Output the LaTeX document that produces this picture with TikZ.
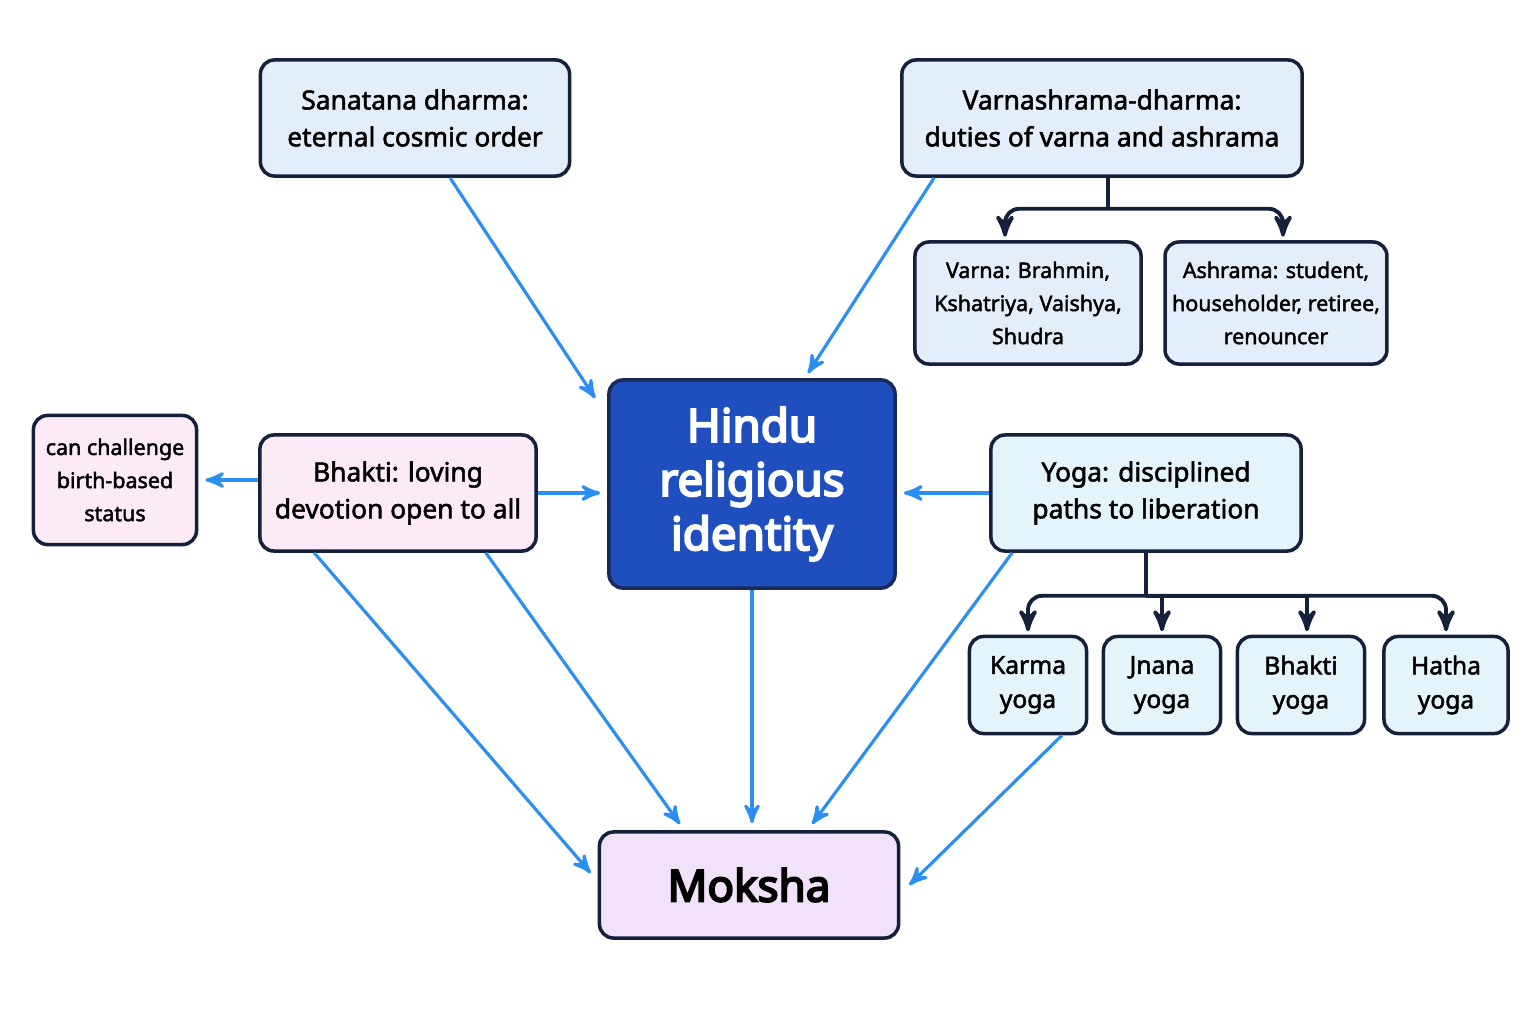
\documentclass[tikz,border=0pt]{standalone}
\usepackage{fontspec}
\setmainfont{Noto Sans}
\newfontfamily\medfont{Noto Sans}[FakeBold=2]
\newfontfamily\headfont{Noto Sans}[FakeBold=4.5]
\usepackage{xcolor}
\usetikzlibrary{arrows,positioning}
\tikzset{>=stealth'}
\definecolor{navy}{HTML}{15203B}
\definecolor{hindublue}{HTML}{1F4EBF}
\definecolor{linkblue}{HTML}{2B8EF2}
\definecolor{bluefill}{HTML}{E4EEFA}
\definecolor{cyanfill}{HTML}{E3F4FB}
\definecolor{pinkfill}{HTML}{FCEAF6}
\definecolor{lavfill}{HTML}{F1E2F9}

\begin{document}
\begin{tikzpicture}[x=0.01cm,y=-0.01cm,
                    box/.style={draw=navy, line width=1pt, rounded corners=4pt, align=center, inner sep=2pt},
                    bigbox/.style={box, minimum height=1.16cm, font=\medfont\fontsize{7.5}{10.5}\selectfont},
                    smallbox/.style={box, font=\medfont\fontsize{6.1}{9.4}\selectfont},
                    yogabox/.style={box, fill=cyanfill, minimum height=0.97cm, font=\medfont\fontsize{7}{9.7}\selectfont},
                    link/.style={->, line width=0.9pt, draw=linkblue, fill=linkblue},
                    tree/.style={->, line width=1.1pt, draw=navy, rounded corners=4pt},
                   ]

\useasboundingbox (0,0) rectangle (1536,1024);

% upper row
\node[bigbox, fill=bluefill, minimum width=3.09cm] (san) at (415,118) {Sanatana dharma:\\eternal cosmic order};
\node[bigbox, fill=bluefill, minimum width=4.0cm] (varn) at (1102,118) {Varnashrama-dharma:\\duties of varna and ashrama};
\node[smallbox, fill=bluefill, minimum width=2.26cm, minimum height=1.22cm] (varna) at (1028,303) {Varna: Brahmin,\\Kshatriya, Vaishya,\\Shudra};
\node[smallbox, fill=bluefill, minimum width=2.2cm, minimum height=1.22cm] (ashr) at (1276,303) {Ashrama: student,\\householder, retiree,\\renouncer};

% middle row
\node[box, fill=hindublue, draw=navy!80!hindublue, text=white, minimum width=2.86cm, minimum height=2.08cm,
      font=\headfont\fontsize{13}{15.4}\selectfont] (hindu) at (752,484) {Hindu\\religious\\identity};
\node[smallbox, fill=pinkfill, minimum width=1.63cm, minimum height=1.29cm] (chal) at (115,480) {can challenge\\birth-based\\status};
\node[bigbox, fill=pinkfill, minimum width=2.76cm] (bhak) at (398,493) {Bhakti: loving\\devotion open to all};
\node[bigbox, fill=cyanfill, minimum width=3.1cm] (yoga) at (1146,493) {Yoga: disciplined\\paths to liberation};

% yoga paths
\node[yogabox, minimum width=1.17cm] (karma) at (1028,685) {Karma\\yoga};
\node[yogabox, minimum width=1.17cm] (jnana) at (1162,685) {Jnana\\yoga};
\node[yogabox, minimum width=1.27cm] (bhy) at (1301,685) {Bhakti\\yoga};
\node[yogabox, minimum width=1.24cm] (hatha) at (1446,685) {Hatha\\yoga};

% goal
\node[box, fill=lavfill, minimum width=2.99cm, minimum height=1.06cm,
      font=\headfont\fontsize{12.5}{15}\selectfont] (moksha) at (749,885) {Moksha};

% blue links
\draw[link] ([xshift=0.35cm]san.south) -- ([xshift=-0.12cm,yshift=-0.2cm]hindu.north west);
\draw[link] ([xshift=0.34cm]varn.south west) -- ([xshift=0.56cm,yshift=0.05cm]hindu.north);
\draw[link, shorten >=2pt] (bhak.east) -- (hindu.west |- bhak.east);
\draw[link, shorten >=2pt] (yoga.west) -- (hindu.east |- yoga.west);
\draw[link, shorten >=2pt] (bhak.west |- chal.east) -- (chal.east);
\draw[link] ([xshift=0.56cm]bhak.south west) -- ([xshift=-0.07cm,yshift=0.12cm]moksha.west);
\draw[link] ([xshift=-0.52cm]bhak.south east) -- ([xshift=-0.69cm,yshift=0.06cm]moksha.north);
\draw[link, shorten >=2pt] (hindu.south) -- (hindu.south |- moksha.north);
\draw[link] ([xshift=0.23cm]yoga.south west) -- ([xshift=0.63cm,yshift=0.06cm]moksha.north);
\draw[link] ([xshift=0.34cm]karma.south) -- ([xshift=0.09cm]moksha.east);

% tree from varnashrama
\draw[line width=1.1pt, draw=navy] ([xshift=0.06cm]varn.south) -- ++(0,31) coordinate (vj);
\draw[tree, shorten >=1pt] (vj) -| ([xshift=-0.23cm]varna.north);
\draw[tree, shorten >=1pt] (vj) -| ([xshift=0.07cm]ashr.north);

% tree from yoga
\draw[line width=1.1pt, draw=navy] (yoga.south) -- ++(0,43) coordinate (yj);
\draw[tree, shorten >=1pt] (yj) -| (karma.north);
\draw[tree, rounded corners=0pt, shorten >=1pt] (yj) -| (jnana.north);
\draw[tree, rounded corners=0pt, shorten >=1pt] (yj) -| ([xshift=0.06cm]bhy.north);
\draw[tree, shorten >=1pt] (yj) -| (hatha.north);

\end{tikzpicture}
\end{document}
